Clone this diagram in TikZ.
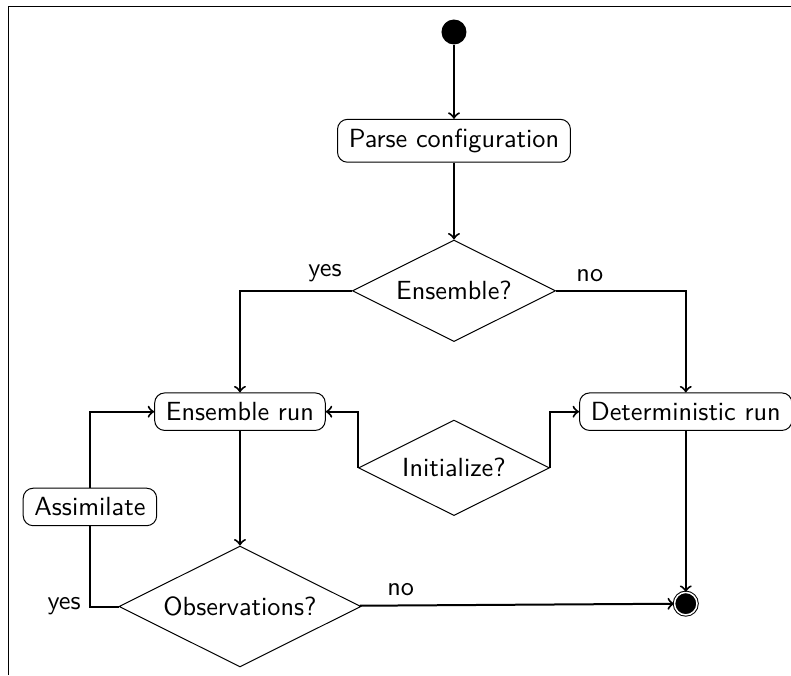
\documentclass[tikz,border=0pt]{standalone}
\usepackage{tikz}
\usetikzlibrary{shapes.geometric, arrows}

\begin{document}
\begin{tikzpicture}[node distance=2cm, font=\sffamily\fontsize{10.5}{12.6}\selectfont]
	\tikzstyle{initial} = [circle, fill=black, minimum size=10pt, inner sep=0pt]
	\tikzstyle{final} = [circle, draw=black, double, fill=black, minimum size=9pt, inner sep=0pt]
	\tikzstyle{activity} = [rectangle, rounded corners, inner xsep=4.5pt, inner ysep=3.8pt, text centered, draw=black]
	\tikzstyle{decision} = [diamond, aspect=2, text centered, draw=black]
	\tikzstyle{arrow} = [thick,->]
	\useasboundingbox (-6.385,-9.044) rectangle (4.740,0.450);
	\draw (-6.259,-9.044) |- (4.740,0.352);
	\node (start) [initial] {};
	\node (parseConfig) [activity, below of=start, yshift=0.47cm] {Parse configuration};
	\node (ensembleQ) [decision, below of=parseConfig, yshift=-0.11cm] {Ensemble?};
	\node (ensembleRun) [activity, below of=ensembleQ, xshift=-3.01cm, yshift=0.30cm] {Ensemble run};
	\node (detRun) [activity, below of=ensembleQ, xshift=3.26cm, yshift=0.30cm] {Deterministic run};
	\node (initQ) [decision, below of=ensembleQ, yshift=-0.49cm] {Initialize?};
	\node (obsQ) [decision, below of=ensembleRun, yshift=-0.74cm] {Observations?};
	\node (assimilate) [activity, below of=ensembleRun, xshift=-2.11cm, yshift=0.66cm] {Assimilate};
	\node (stop) [final, below of=detRun, yshift=-0.70cm] {};
	\draw [arrow] (start) -- (parseConfig);
	\draw [arrow] (parseConfig) -- (ensembleQ);
	\draw [arrow] (ensembleQ) -| node[above, pos=0.12] {yes} (ensembleRun);
	\draw [arrow] (ensembleQ) -| node[above, pos=0.13] {no} (detRun);
	\draw [arrow] (initQ.west) |- (ensembleRun);
	\draw [arrow] (initQ.east) |- (detRun);
	\draw [arrow] (ensembleRun) -- (obsQ);
	\draw [arrow] (detRun) -- (stop);
	\draw [arrow] (obsQ) -- node[above, pos=0.13] {no} (stop);
	\draw [thick] (obsQ) -| node[left, pos=0.5] {yes} (assimilate);
	\draw [arrow] (assimilate) |- (ensembleRun);
\end{tikzpicture}
\end{document}
